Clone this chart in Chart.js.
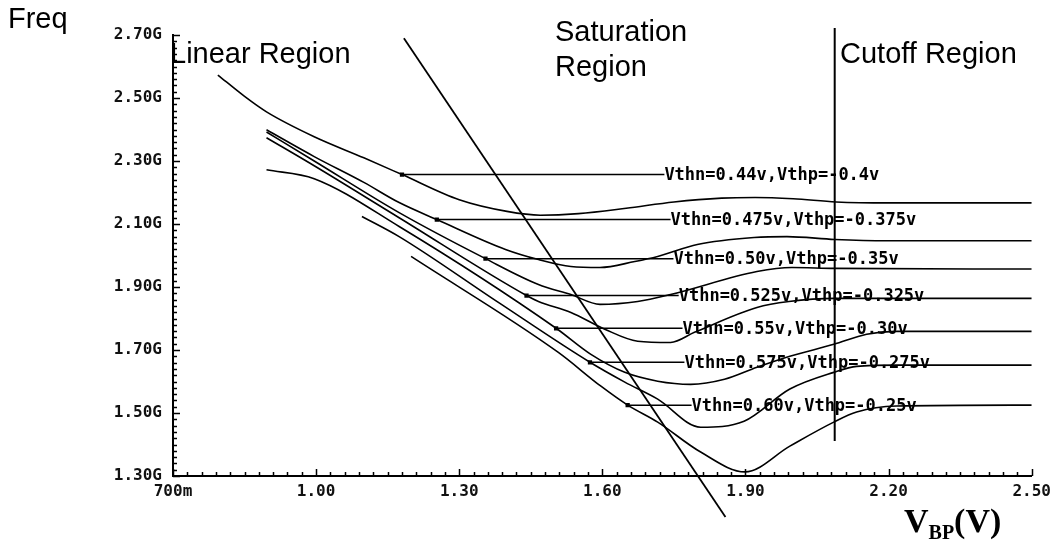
<!DOCTYPE html>
<html>
<head>
<meta charset="utf-8">
<script src="https://cdn.jsdelivr.net/npm/chart.js@4.4.0/dist/chart.umd.min.js"></script>
<style>
  html, body { margin: 0; padding: 0; background: #fff; }
</style>
</head>
<body>
<canvas id="freqChart" width="1057" height="542"></canvas>
<script>
// V_BP (V) / Freq (GHz) for each Vthn,Vthp corner
const vbp044 = [0.794, 0.85, 0.896, 0.996, 1.10, 1.18, 1.30, 1.40, 1.47, 1.55, 1.65, 1.75, 1.85, 1.92, 2.00, 2.09, 2.20, 2.50];
const freq044 = [2.573, 2.505, 2.456, 2.377, 2.310, 2.257, 2.177, 2.140, 2.128, 2.133, 2.150, 2.170, 2.182, 2.184, 2.180, 2.170, 2.167, 2.167];

const vbp0475 = [0.896, 0.996, 1.10, 1.174, 1.253, 1.397, 1.466, 1.534, 1.595, 1.668, 1.716, 1.799, 1.918, 1.987, 2.087, 2.198, 2.50];
const freq0475 = [2.399, 2.314, 2.232, 2.168, 2.114, 2.019, 1.987, 1.965, 1.962, 1.981, 1.997, 2.035, 2.057, 2.060, 2.051, 2.047, 2.047];

const vbp050 = [0.896, 0.996, 1.174, 1.355, 1.466, 1.534, 1.595, 1.674, 1.743, 1.924, 1.997, 2.087, 2.50];
const freq050 = [2.392, 2.300, 2.136, 1.990, 1.908, 1.876, 1.845, 1.854, 1.876, 1.949, 1.962, 1.959, 1.957];

const vbp0525 = [0.896, 0.996, 1.174, 1.441, 1.466, 1.534, 1.605, 1.674, 1.743, 1.793, 1.924, 1.991, 2.087, 2.50];
const freq0525 = [2.374, 2.285, 2.120, 1.873, 1.854, 1.819, 1.766, 1.728, 1.724, 1.756, 1.835, 1.854, 1.864, 1.864];

const vbp055 = [0.896, 0.996, 1.174, 1.503, 1.576, 1.647, 1.716, 1.785, 1.856, 1.924, 1.993, 2.085, 2.154, 2.216, 2.50];
const freq055 = [2.272, 2.244, 2.092, 1.769, 1.686, 1.629, 1.601, 1.591, 1.607, 1.645, 1.680, 1.718, 1.750, 1.759, 1.759];

const vbp0575 = [1.096, 1.174, 1.382, 1.574, 1.647, 1.716, 1.806, 1.897, 1.993, 2.085, 2.133, 2.216, 2.50];
const freq0575 = [2.124, 2.060, 1.851, 1.661, 1.598, 1.544, 1.455, 1.474, 1.576, 1.629, 1.648, 1.652, 1.652];

const vbp060 = [1.199, 1.507, 1.597, 1.653, 1.716, 1.806, 1.899, 1.993, 2.085, 2.133, 2.216, 2.50];
const freq060 = [1.997, 1.693, 1.585, 1.525, 1.471, 1.376, 1.313, 1.395, 1.471, 1.503, 1.522, 1.525];

const curveLabels = [
  'Vthn=0.44v,Vthp=-0.4v',
  'Vthn=0.475v,Vthp=-0.375v',
  'Vthn=0.50v,Vthp=-0.35v',
  'Vthn=0.525v,Vthp=-0.325v',
  'Vthn=0.55v,Vthp=-0.30v',
  'Vthn=0.575v,Vthp=-0.275v',
  'Vthn=0.60v,Vthp=-0.25v'
];
const leaderX = [1.18, 1.253, 1.355, 1.441, 1.503, 1.574, 1.653];
const leaderY = [2.257, 2.114, 1.990, 1.873, 1.769, 1.661, 1.525];
const labelX = [1.730, 1.743, 1.749, 1.760, 1.768, 1.772, 1.787];

// region boundaries
const boundaryX = [1.184, 1.858];
const boundaryY = [2.690, 1.170];
const cutoffX = [2.087, 2.087];
const cutoffY = [2.722, 1.411];

const xMajor = [0.7, 1.0, 1.3, 1.6, 1.9, 2.2, 2.5];
const xTickLabels = ['700m', '1.00', '1.30', '1.60', '1.90', '2.20', '2.50'];
const yMajor = [2.7, 2.5, 2.3, 2.1, 1.9, 1.7, 1.5, 1.3];
const yTickLabels = ['2.70G', '2.50G', '2.30G', '2.10G', '1.90G', '1.70G', '1.50G', '1.30G'];

const pts = (xs, ys) => xs.map((v, i) => ({ x: v, y: ys[i] }));
const majorLabel = (majors, labels) => (value) => {
  const i = majors.findIndex((m) => Math.abs(m - value) < 1e-6);
  return i >= 0 ? labels[i] : '';
};

const curves = [
  [vbp044, freq044], [vbp0475, freq0475], [vbp050, freq050], [vbp0525, freq0525],
  [vbp055, freq055], [vbp0575, freq0575], [vbp060, freq060]
];

const datasets = [];
curves.forEach(([xs, ys], i) => {
  datasets.push({
    label: curveLabels[i],
    data: pts(xs, ys),
    borderColor: '#000',
    borderWidth: 1.6,
    pointRadius: 0,
    cubicInterpolationMode: 'monotone'
  });
  datasets.push({
    label: 'leader ' + i,
    data: [{ x: leaderX[i], y: leaderY[i] }, { x: labelX[i], y: leaderY[i] }],
    borderColor: '#000',
    borderWidth: 1.5,
    pointStyle: 'rect',
    pointRadius: [3, 0],
    pointBackgroundColor: '#000',
    pointBorderWidth: 0
  });
});
datasets.push({
  label: 'boundary',
  data: pts(boundaryX, boundaryY),
  borderColor: '#000',
  borderWidth: 1.8,
  pointRadius: 0,
  clip: false
});
datasets.push({
  label: 'cutoff',
  data: pts(cutoffX, cutoffY),
  borderColor: '#000',
  borderWidth: 2,
  pointRadius: 0,
  clip: false
});

const innerTicks = {
  id: 'innerTicks',
  afterDraw(chart) {
    const { ctx, chartArea: a, scales: { x, y } } = chart;
    ctx.save();
    ctx.strokeStyle = '#000';
    ctx.lineWidth = 1.5;
    ctx.beginPath();
    x.ticks.forEach((t) => {
      const px = Math.round(x.getPixelForValue(t.value)) + 0.5;
      ctx.moveTo(px, a.bottom);
      ctx.lineTo(px, a.bottom - (t.label ? 7 : 4));
    });
    y.ticks.forEach((t) => {
      const py = Math.round(y.getPixelForValue(t.value)) + 0.5;
      ctx.moveTo(a.left, py);
      ctx.lineTo(a.left + (t.label ? 7 : 4), py);
    });
    ctx.stroke();
    ctx.restore();
  }
};

const annotations = {
  id: 'annotations',
  afterDatasetsDraw(chart) {
    const { ctx, scales: { x, y } } = chart;
    ctx.save();
    ctx.fillStyle = '#000';
    ctx.textBaseline = 'middle';
    ctx.font = 'bold 17px "DejaVu Sans Mono"';
    curveLabels.forEach((txt, i) => {
      ctx.fillText(txt, x.getPixelForValue(labelX[i]), y.getPixelForValue(leaderY[i]) + 1);
    });

    ctx.textBaseline = 'alphabetic';
    ctx.font = '29px "Liberation Sans"';
    ctx.fillText('Freq', 8, 28);
    ctx.fillText('Linear Region', 170, 63);
    ctx.fillText('Saturation', 555, 41);
    ctx.fillText('Region', 555, 76);
    ctx.fillText('Cutoff Region', 840, 63);

    ctx.font = 'bold 34px "Liberation Serif"';
    ctx.fillText('V', 904, 532);
    const vw = ctx.measureText('V').width;
    ctx.font = 'bold 20px "Liberation Serif"';
    ctx.fillText('BP', 904 + vw, 539);
    const bw = ctx.measureText('BP').width;
    ctx.font = 'bold 34px "Liberation Serif"';
    ctx.fillText('(V)', 904 + vw + bw, 532);
    ctx.restore();
  }
};

new Chart(document.getElementById('freqChart'), {
  type: 'scatter',
  data: { datasets },
  options: {
    responsive: false,
    animation: false,
    showLine: true,
    layout: { padding: { left: 0, top: 35, right: 22, bottom: 0 } },
    plugins: {
      legend: { display: false },
      tooltip: { enabled: false }
    },
    scales: {
      x: {
        type: 'linear',
        min: 0.7,
        max: 2.5,
        afterFit: (s) => { s.height = 66; },
        border: { display: true, color: '#000', width: 2 },
        grid: { display: true, drawOnChartArea: false, drawTicks: false },
        ticks: {
          stepSize: 0.03,
          autoSkip: false,
          maxRotation: 0,
          padding: 6,
          color: '#111',
          font: { family: 'DejaVu Sans Mono', size: 16, weight: 'bold' },
          callback: majorLabel(xMajor, xTickLabels)
        }
      },
      y: {
        type: 'linear',
        min: 1.3,
        max: 2.7,
        afterFit: (s) => { s.width = 173; },
        border: { display: true, color: '#000', width: 2 },
        grid: { display: true, drawOnChartArea: false, drawTicks: false },
        ticks: {
          stepSize: 0.02,
          autoSkip: false,
          padding: 11,
          color: '#111',
          font: { family: 'DejaVu Sans Mono', size: 16, weight: 'bold' },
          callback: majorLabel(yMajor, yTickLabels)
        }
      }
    }
  },
  plugins: [innerTicks, annotations]
});
</script>
</body>
</html>
